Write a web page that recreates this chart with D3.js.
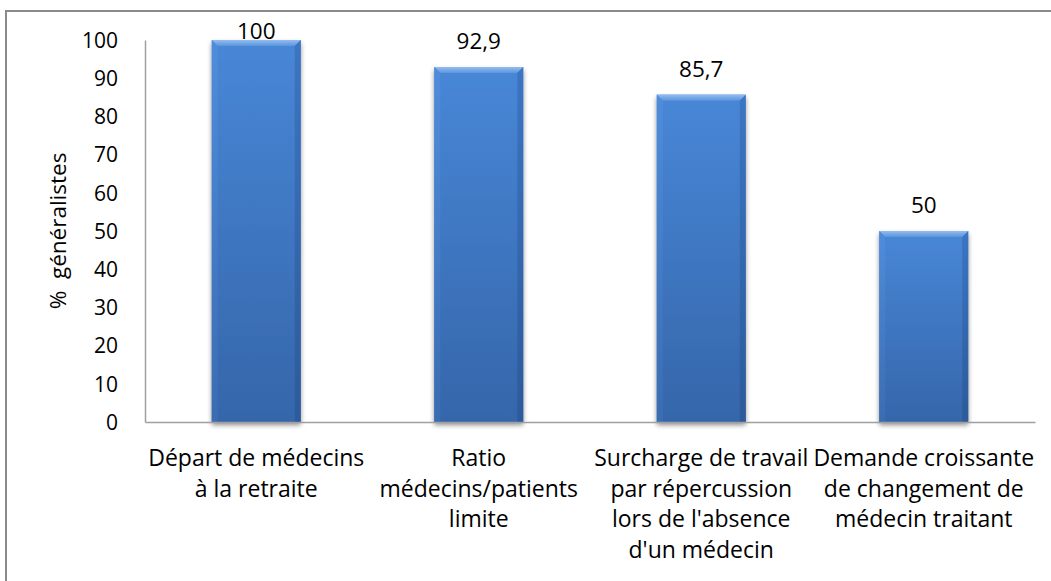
<!DOCTYPE html>
<html>
<head>
<meta charset="utf-8">
<script src="https://cdn.jsdelivr.net/npm/d3@7"></script>
<style>
  html, body { margin: 0; padding: 0; background: #fff; }
  svg { display: block; }
  text { font-family: "Open Sans", sans-serif; fill: #000; white-space: pre; }
</style>
</head>
<body>
<svg id="chart" width="1051" height="581"></svg>
<script>
// ---- data ----
const categories = [
  "Départ de médecins\nà la retraite",
  "Ratio\nmédecins/patients\nlimite",
  "Surcharge de travail\npar répercussion\nlors de l'absence\nd'un médecin",
  "Demande croissante\nde changement de\nmédecin traitant"
];
const values = [100, 92.9, 85.7, 50];
const valueLabels = ["100", "92,9", "85,7", "50"];
const yTicks = [0, 10, 20, 30, 40, 50, 60, 70, 80, 90, 100];
const yTitle = "%  généralistes";

// ---- layout ----
const W = 1051, H = 581;
const plot = { left: 145, right: 1035, top: 40, bottom: 422 };

const svg = d3.select("#chart");

// defs: gradients + shadow
const defs = svg.append("defs");
function vgrad(id, c0, c1) {
  const g = defs.append("linearGradient").attr("id", id)
    .attr("x1", 0).attr("y1", 0).attr("x2", 0).attr("y2", 1);
  g.append("stop").attr("offset", "0%").attr("stop-color", c0);
  g.append("stop").attr("offset", "100%").attr("stop-color", c1);
}
vgrad("barMain", "#4887d7", "#3566aa");
vgrad("barTop", "#93bdf0", "#5b94dc");
vgrad("barLeft", "#508edb", "#3b6db3");
vgrad("barRight", "#3a72bf", "#2b5898");

const shadow = defs.append("filter").attr("id", "shadow")
  .attr("x", "-20%").attr("y", "-10%").attr("width", "140%").attr("height", "130%");
shadow.append("feGaussianBlur").attr("in", "SourceAlpha").attr("stdDeviation", 2.5);
shadow.append("feOffset").attr("dx", 0).attr("dy", 3).attr("result", "ob");
shadow.append("feComponentTransfer").append("feFuncA").attr("type", "linear").attr("slope", 0.45);
const merge = shadow.append("feMerge");
merge.append("feMergeNode");
merge.append("feMergeNode").attr("in", "SourceGraphic");

// outer border (left and top visible)
svg.append("path")
  .attr("d", `M6,${H + 5} L6,11 L${W + 5},11`)
  .attr("fill", "none").attr("stroke", "#8a8a8a").attr("stroke-width", 2);

// scales
const x = d3.scaleBand().domain(d3.range(categories.length))
  .range([plot.left, plot.right]).paddingInner(0.6).paddingOuter(0.3);
const y = d3.scaleLinear().domain([0, 100]).range([plot.bottom, plot.top]);

// y axis
const yAxis = svg.append("g").attr("transform", `translate(${plot.left},0)`)
  .call(d3.axisLeft(y).tickValues(yTicks).tickSize(0).tickPadding(27).tickFormat(d3.format("d")));
yAxis.select(".domain").attr("stroke", "#a0a0a0").attr("stroke-width", 1.5);
yAxis.selectAll("text").attr("font-size", 21).attr("font-family", "Open Sans")
  .attr("fill", "#000").attr("dy", "0.35em");

// bars
const bars = svg.append("g").selectAll("g.bar").data(values).join("g").attr("class", "bar");
const bev = 6;
bars.each(function (v, i) {
  const g = d3.select(this);
  const x0 = x(i), x1 = x(i) + x.bandwidth();
  const y0 = y(v), y1 = y(0);
  g.append("rect").attr("x", x0).attr("y", y0).attr("width", x1 - x0).attr("height", y1 - y0)
    .attr("fill", "url(#barMain)").attr("filter", "url(#shadow)");
  g.append("path").attr("d", `M${x0},${y0} L${x1},${y0} L${x1 - bev},${y0 + bev} L${x0 + bev},${y0 + bev} Z`)
    .attr("fill", "url(#barTop)");
  g.append("path").attr("d", `M${x0},${y0} L${x0 + bev},${y0 + bev} L${x0 + bev},${y1} L${x0},${y1} Z`)
    .attr("fill", "url(#barLeft)").attr("opacity", 0.85);
  g.append("path").attr("d", `M${x1},${y0} L${x1 - bev},${y0 + bev} L${x1 - bev},${y1} L${x1},${y1} Z`)
    .attr("fill", "url(#barRight)").attr("opacity", 0.85);
});

// x axis baseline
svg.append("g").attr("transform", `translate(0,${plot.bottom})`)
  .call(d3.axisBottom(x).tickSize(0).tickFormat(""))
  .select(".domain").attr("stroke", "#a0a0a0").attr("stroke-width", 1.5);

// value labels
svg.append("g").selectAll("text").data(values).join("text")
  .attr("x", (d, i) => x(i) + x.bandwidth() / 2)
  .attr("y", d => Math.max(y(d) - 18, plot.top - 1))
  .attr("text-anchor", "middle").attr("font-size", 22.5)
  .text((d, i) => valueLabels[i]);

// category labels
const lineH = 30.5;
svg.append("g").selectAll("text").data(categories).join("text")
  .attr("x", (d, i) => x(i) + x.bandwidth() / 2)
  .attr("y", plot.bottom + 44)
  .attr("text-anchor", "middle").attr("font-size", 23)
  .each(function (d) {
    const t = d3.select(this);
    const cx = t.attr("x");
    d.split("\n").forEach((line, k) => {
      t.append("tspan").attr("x", cx).attr("dy", k === 0 ? 0 : lineH).text(line);
    });
  });

// y title
svg.append("text")
  .attr("transform", `translate(66,${(plot.top + plot.bottom) / 2}) rotate(-90)`)
  .attr("text-anchor", "middle").attr("font-size", 22.5)
  .text(yTitle);
</script>
</body>
</html>
